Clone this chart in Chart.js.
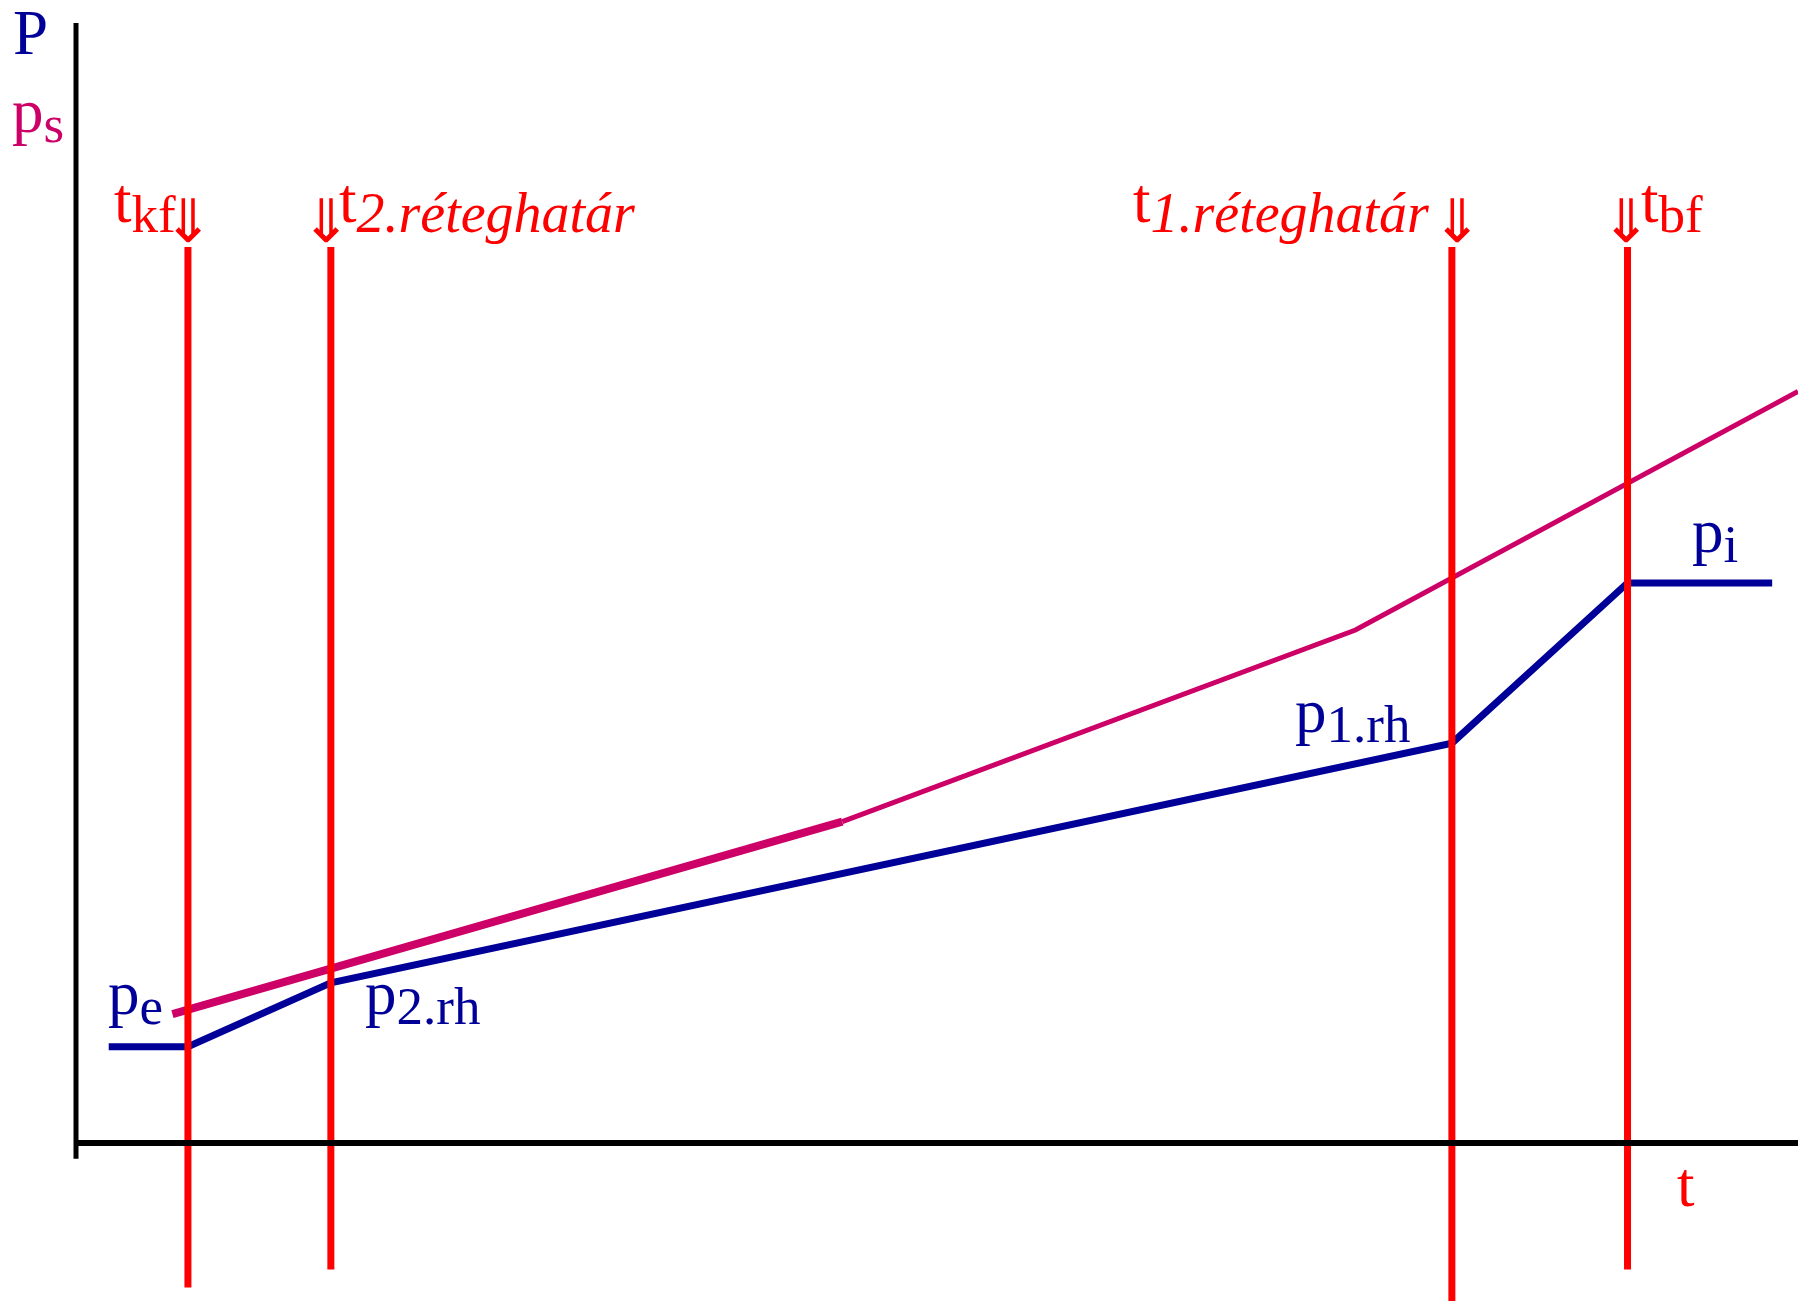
<!DOCTYPE html>
<html>
<head>
<meta charset="utf-8">
<script src="https://cdn.jsdelivr.net/npm/chart.js@4"></script>
<style>
  html, body { margin: 0; padding: 0; background: #fff; }
  #chart { display: block; }
</style>
</head>
<body>
<canvas id="chart" width="1798" height="1301" style="width:1798px;height:1301px"></canvas>
<script>
// pressure (p) along time t, in chart units (axis origin at 0,0)
const pTimes = [1.9, 6.5, 14.8, 79.9, 90.1, 98.5];
const pValues = [8.6, 8.6, 14.3, 35.7, 50.0, 50.0];

// saturation pressure ps
const psTimes = [5.6, 44.5, 74.3, 100];
const psValues = [11.5, 28.7, 45.8, 67.1];

// vertical boundary markers (t_kf, t_2.rh, t_1.rh, t_bf)
const boundaryTimes = [6.5, 14.8, 79.9, 90.1];
const boundaryTop = 80;
const boundaryBottoms = [-12.9, -11.3, -14.2, -11.3];

const BLUE = "#000099";
const MAGENTA = "#cc0066";
const RED = "#ff0000";
const SERIF = '"Liberation Serif", "Times New Roman", serif';
const ARROW_FONT = '"Noto Sans CJK JP", "DejaVu Sans", sans-serif';

const toPoints = (xs, ys) => xs.map((x, i) => ({ x: x, y: ys[i] }));

const datasets = [
  {
    label: "t axis",
    data: [{ x: 0, y: 0 }, { x: 100, y: 0 }],
    borderColor: "#000",
    borderWidth: 6,
  },
  {
    label: "P axis",
    data: [{ x: 0, y: 100 }, { x: 0, y: -1.4 }],
    borderColor: "#000",
    borderWidth: 5,
  },
];

boundaryTimes.forEach((t, i) => {
  datasets.push({
    label: "boundary " + i,
    data: [{ x: t, y: boundaryTop }, { x: t, y: boundaryBottoms[i] }],
    borderColor: RED,
    borderWidth: 7,
  });
});

datasets.push({
  label: "ps",
  data: toPoints(psTimes, psValues),
  borderColor: MAGENTA,
  borderWidth: 5,
  segment: {
    borderWidth: (c) => (c.p0DataIndex === 0 ? 8 : 5),
  },
});

datasets.push({
  label: "p",
  data: toPoints(pTimes, pValues),
  borderColor: BLUE,
  borderWidth: 7,
  borderJoinStyle: "miter",
});

// text: main letter + lowered subscript
function drawLabel(ctx, x, y, main, sub, color, italicSub) {
  ctx.fillStyle = color;
  ctx.font = "63px " + SERIF;
  ctx.textAlign = "left";
  ctx.textBaseline = "alphabetic";
  ctx.fillText(main, x, y);
  let end = x + ctx.measureText(main).width;
  if (sub) {
    ctx.font = italicSub ? "italic 56px " + SERIF : "53px " + SERIF;
    ctx.fillText(sub, end, y + 10);
    end += ctx.measureText(sub).width;
  }
  return end;
}

// thin double arrow, bottom tip near y
function drawArrow(ctx, cx, y, color) {
  ctx.save();
  ctx.fillStyle = color;
  ctx.font = "300 60px " + ARROW_FONT;
  ctx.textAlign = "center";
  ctx.textBaseline = "bottom";
  ctx.fillText("\u21D3", cx, y);
  ctx.restore();
}

const labelPlugin = {
  id: "labels",
  afterDatasetsDraw(chart) {
    const ctx = chart.ctx;
    ctx.save();
    drawLabel(ctx, 13, 54, "P", "", BLUE);
    drawLabel(ctx, 12, 132, "p", "s", MAGENTA);

    drawLabel(ctx, 114, 222, "t", "kf", RED);
    drawArrow(ctx, 188, 249, RED);

    drawArrow(ctx, 326, 249, RED);
    drawLabel(ctx, 339, 222, "t", "2.réteghatár", RED, true);

    drawLabel(ctx, 1133, 222, "t", "1.réteghatár", RED, true);
    drawArrow(ctx, 1457, 249, RED);

    drawArrow(ctx, 1626, 249, RED);
    drawLabel(ctx, 1641, 222, "t", "bf", RED);

    drawLabel(ctx, 108, 1014, "p", "e", BLUE);
    drawLabel(ctx, 365, 1014, "p", "2.rh", BLUE);
    drawLabel(ctx, 1295, 732, "p", "1.rh", BLUE);
    drawLabel(ctx, 1692, 552, "p", "i", BLUE);

    drawLabel(ctx, 1677, 1206, "t", "", RED);
    ctx.restore();
  },
};

new Chart(document.getElementById("chart"), {
  type: "line",
  data: { datasets: datasets },
  options: {
    responsive: false,
    animation: false,
    devicePixelRatio: 1,
    layout: { padding: 0 },
    elements: {
      point: { radius: 0, hoverRadius: 0 },
      line: { tension: 0, fill: false, borderCapStyle: "butt" },
    },
    datasets: { line: { clip: false } },
    plugins: {
      legend: { display: false },
      tooltip: { enabled: false },
    },
    events: [],
    scales: {
      x: { type: "linear", display: false, min: -4.4135, max: 100 },
      y: { type: "linear", display: false, min: -14.107, max: 102.054 },
    },
  },
  plugins: [labelPlugin],
});
</script>
</body>
</html>
